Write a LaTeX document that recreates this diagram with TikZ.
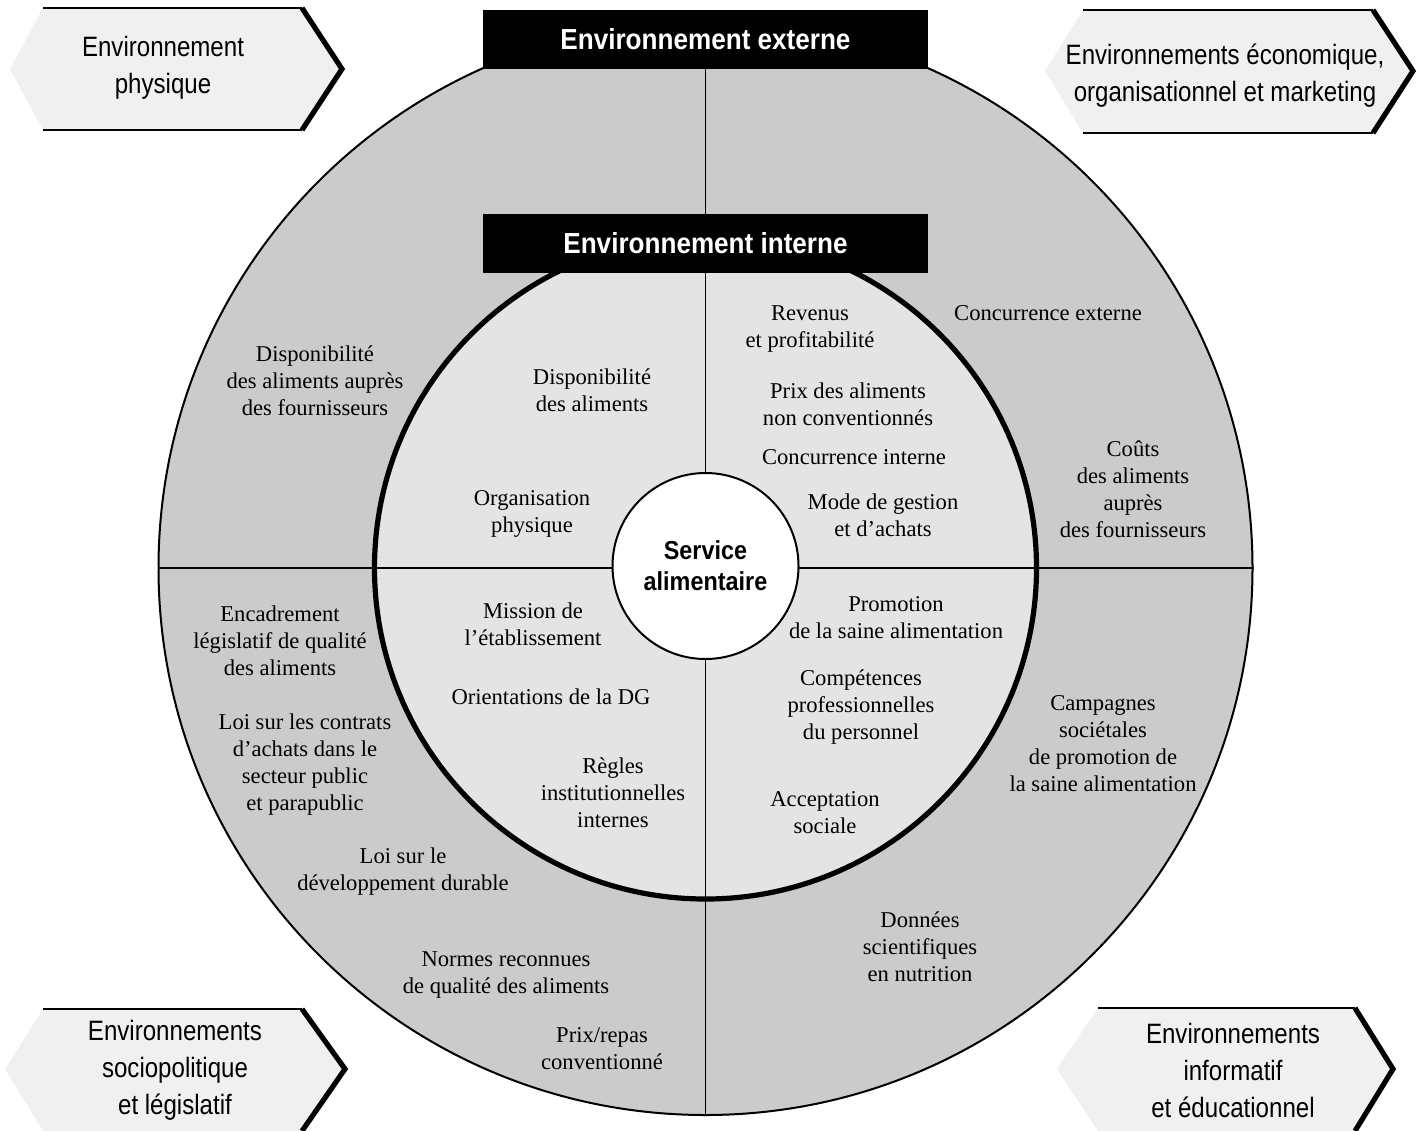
\documentclass[tikz,border=0pt]{standalone}
\usepackage{fontspec}
\setmainfont{Liberation Serif}
\newfontfamily\condsf[FakeStretch=0.86]{Liberation Sans}
\newfontfamily\condbf[FakeStretch=0.9]{Liberation Sans}
\definecolor{ringgray}{HTML}{CBCBCB}
\definecolor{coregray}{HTML}{E4E4E4}
\definecolor{tabgray}{HTML}{F0F0F0}

\begin{document}
\begin{tikzpicture}[x=0.5pt,y=-0.5pt,
  factor/.style={align=center, inner sep=0pt, font=\fontsize{11.3}{13.5}\selectfont},
  envlabel/.style={align=center, inner sep=0pt, font=\condsf\fontsize{14}{18.5}\selectfont},
  titlebox/.style={fill=black, text=white, inner sep=0pt, minimum width=222.5pt, minimum height=29.5pt, font=\condbf\bfseries\fontsize{14.5}{15}\selectfont},
  crossline/.style={line width=0.7pt}]
\useasboundingbox (0,0) rectangle (1424,1130);

\node [circle, draw, line width=1pt, fill=ringgray, minimum size=547pt, inner sep=0pt] (outer) at (705.5,568) {};
\node [circle, draw, line width=2.6pt, fill=coregray, minimum size=331pt, inner sep=0pt] (core) at (705.5,568) {};
\draw [crossline] (outer.west) -- (outer.east);
\draw [crossline] (outer.north) -- (outer.south);
\node [circle, draw, line width=1pt, fill=white, minimum size=93pt, inner sep=0pt, align=center,
  font=\condbf\bfseries\fontsize{13}{15.5}\selectfont] (service) at (705.5,566) {Service\\alimentaire};

\node [titlebox] (externe) at (705.5,39.5) {Environnement externe};
\node [titlebox] (interne) at (705.5,243) {Environnement interne};

\fill [tabgray] (10,69) -- (43,8) -- (302,8) -- (342,69) -- (302,130) -- (43,130) -- cycle;
\draw [line width=0.7pt] (43,8) -- (302,8) (43,130) -- (302,130);
\draw [line width=2.6pt, line join=miter] (302,8) -- (342,69) -- (302,130);
\node [envlabel] (physique) at (163,68) {Environnement\\physique};

\fill [tabgray] (1045,71) -- (1083,10) -- (1373,10) -- (1413,71) -- (1373,133) -- (1083,133) -- cycle;
\draw [line width=0.7pt] (1083,10) -- (1373,10) (1083,133) -- (1373,133);
\draw [line width=2.6pt, line join=miter] (1373,10) -- (1413,71) -- (1373,133);
\node [envlabel] (economique) at (1225,76) {Environnements économique,\\organisationnel et marketing};

\fill [tabgray] (5,1069) -- (43,1009) -- (302,1009) -- (345,1069) -- (302,1131) -- (43,1131) -- cycle;
\draw [line width=0.7pt] (43,1009) -- (302,1009);
\draw [line width=2.6pt, line join=miter] (302,1009) -- (345,1069) -- (302,1131);
\node [envlabel] (sociopol) at (175,1070) {Environnements\\sociopolitique\\et législatif};

\fill [tabgray] (1057,1069) -- (1098,1008) -- (1355,1008) -- (1393,1069) -- (1355,1131) -- (1098,1131) -- cycle;
\draw [line width=0.7pt] (1098,1008) -- (1355,1008);
\draw [line width=2.6pt, line join=miter] (1355,1008) -- (1393,1069) -- (1355,1131);
\node [envlabel] (informatif) at (1233,1070) {Environnements\\informatif\\et éducationnel};

\node [factor] (dispfourn) at (315,381) {Disponibilité\\des aliments auprès\\des fournisseurs};
\node [factor] (dispalim) at (592,390) {Disponibilité\\des aliments};
\node [factor] (orgphys) at (532,514) {Organisation\\physique};
\node [factor] (revenus) at (810,329) {Revenus\\et profitabilité};
\node [factor] (prixnc) at (848,404) {Prix des aliments\\non conventionnés};
\node [factor] (concint) at (854,457) {Concurrence interne};
\node [factor] (modegest) at (883,515) {Mode de gestion\\et d’achats};
\node [factor] (concext) at (1048,313) {Concurrence externe};
\node [factor] (couts) at (1133,489) {Coûts\\des aliments\\auprès\\des fournisseurs};
\node [factor] (encadr) at (280,641) {Encadrement\\législatif de qualité\\des aliments};
\node [factor] (loicontr) at (305,765) {Loi sur les contrats\\d’achats dans le\\secteur public\\et parapublic};
\node [factor] (loidev) at (403,872) {Loi sur le\\développement durable};
\node [factor] (normes) at (506,975) {Normes reconnues\\de qualité des aliments};
\node [factor] (prixrepas) at (602,1049) {Prix/repas\\conventionné};
\node [factor] (mission) at (533,624) {Mission de\\l’établissement};
\node [factor] (orient) at (551,697) {Orientations de la DG};
\node [factor] (regles) at (613,793) {Règles\\institutionnelles\\internes};
\node [factor] (promo) at (896,618) {Promotion\\de la saine alimentation};
\node [factor] (compet) at (861,707) {Compétences\\professionnelles\\du personnel};
\node [factor] (accept) at (825,813) {Acceptation\\sociale};
\node [factor] (campagnes) at (1103,744) {Campagnes\\sociétales\\de promotion de\\la saine alimentation};
\node [factor] (donnees) at (920,947) {Données\\scientifiques\\en nutrition};
\end{tikzpicture}
\end{document}
